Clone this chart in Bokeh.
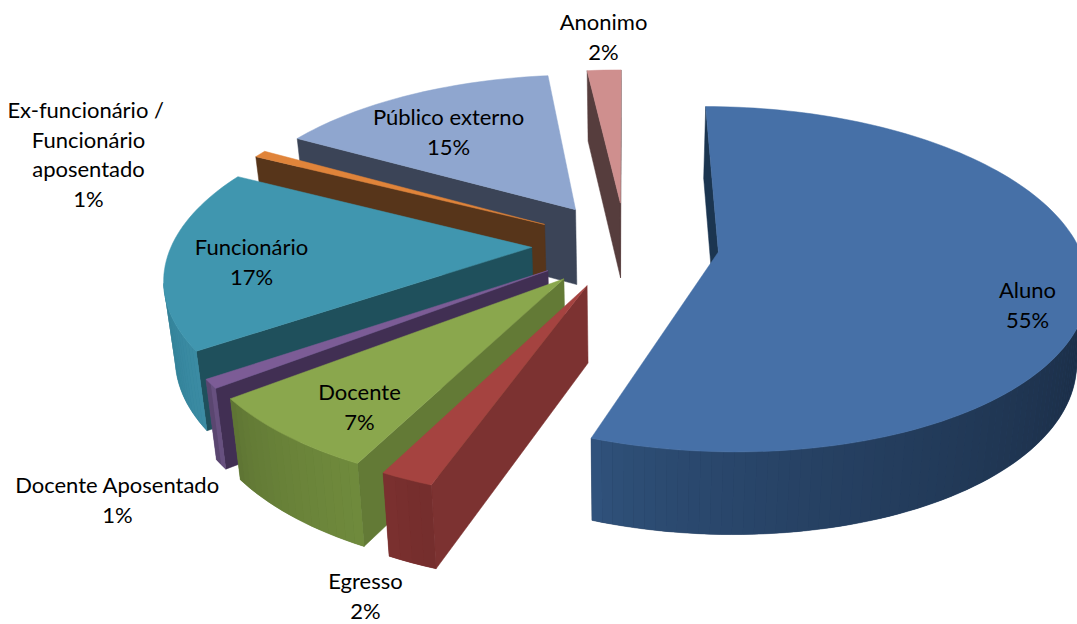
import math
from bokeh.plotting import figure
from bokeh.embed import file_html
from bokeh.resources import INLINE
from bokeh.core.properties import value

categories = ["Aluno", "Egresso", "Docente", "Docente Aposentado", "Funcionário",
              "Ex-funcionário / Funcionário aposentado", "Público externo", "Anonimo"]
shares = [55.47, 1.98, 7.1, 0.85, 17.1, 0.7, 15.0, 1.8]
top_colors = ["#4670a7", "#a54340", "#8aa74d", "#7c5c96", "#4096af", "#e0843a", "#8fa6cf", "#cf8f8e"]
cut_colors = ["#1b3550", "#7c3231", "#637a36", "#412f53", "#1f505c", "#57351a", "#3b4457", "#563d3d"]
side_from = ["#30527c", "#7a302f", "#5f7534", "#5a4670", "#2f7d93", "#a8632b", "#6d7f9e", "#a06e6d"]
side_to = ["#1a2c44", "#752e2d", "#6f8a3c", "#67507f", "#3b8ba3", "#a8632b", "#6d7f9e", "#a06e6d"]

label_lines = [
    (["Aluno", "55%"], 1027, 289),
    (["Egresso", "2%"], 365, 580),
    (["Docente", "7%"], 359, 391),
    (["Docente Aposentado", "1%"], 117, 484),
    (["Funcionário", "17%"], 251, 246),
    (["Ex-funcionário  /", "Funcionário", "aposentado", "1%"], 88, 109),
    (["Público externo", "15%"], 448, 116),
    (["Anonimo", "2%"], 603, 21),
]

CX, CY, A, B, K, EXPLODE, DEPTH = 625, 244, 360, 166, 0.157, 0.26, 76
FONT = "Lato"
FONT_SIZE = "22px"
LINE_GAP = 29.7


def project(u, v):
    s = 1 / (1 - K * v)
    return CX + A * u * s, CY + B * v * s


def hex2rgb(h):
    return [int(h[i:i + 2], 16) for i in (1, 3, 5)]


def mix(c1, c2, t):
    a, b = hex2rgb(c1), hex2rgb(c2)
    return "#%02x%02x%02x" % tuple(round(a[i] + (b[i] - a[i]) * t) for i in range(3))


p = figure(width=1077, height=624, x_range=(0, 1077), y_range=(624, 0),
           toolbar_location=None, output_backend="svg", min_border=0)
p.axis.visible = False
p.grid.visible = False
p.outline_line_color = None

total = sum(shares)
slices = []
start = 0.0
for i, share in enumerate(shares):
    sweep = 360.0 * share / total
    mid = math.radians(start + sweep / 2)
    ou, ov = EXPLODE * math.sin(mid), -EXPLODE * math.cos(mid)
    n = max(2, int(sweep / 1.5))
    arc = []
    for j in range(n + 1):
        t = math.radians(start + sweep * j / n)
        arc.append(project(ou + math.sin(t), ov - math.cos(t)))
    apex = project(ou, ov)
    slices.append((ov, i, apex, arc, n))
    start += sweep


def bottom(pt):
    x, y = pt
    v_y = (y - CY) / B
    return CX + (x - CX) * 0.975, y + DEPTH * (1 + 0.07 * v_y)


def quad(a, b, color, line=True):
    c, d = bottom(b), bottom(a)
    xs = [a[0], b[0], c[0], d[0]]
    ys = [a[1], b[1], c[1], d[1]]
    p.patch(xs, ys, fill_color=color, line_color=color if line else None, line_width=0.5)


for ov, i, apex, arc, n in sorted(slices, key=lambda r: r[0]):
    ring = [apex] + arc
    last = len(ring) - 1
    # boundary runs clockwise on screen (y down); an edge faces the viewer when it runs leftward
    first_edge = (ring[0], ring[1])
    last_edge = (ring[last], ring[0])
    for a, b in (first_edge, last_edge):
        if b[0] < a[0]:
            quad(a, b, cut_colors[i])
    arc_edges = [(ring[k], ring[k + 1]) for k in range(1, last) if ring[k + 1][0] < ring[k][0]]
    if arc_edges:
        run = [arc_edges[0][0]] + [e[1] for e in arc_edges]
        low = [bottom(q) for q in reversed(run)]
        base = mix(side_from[i], side_to[i], 0.5)
        p.patch([q[0] for q in run + low], [q[1] for q in run + low],
                fill_color=base, line_color=base, line_width=0.5)
        m = len(arc_edges)
        for k, (a, b) in enumerate(arc_edges):
            quad(a, b, mix(side_from[i], side_to[i], ((m - 1 - k) / max(1, m - 1)) ** 0.7), line=False)
    p.patch([q[0] for q in ring], [q[1] for q in ring], fill_color=top_colors[i],
            line_color=top_colors[i], line_width=0.5)

for lines, x, y in label_lines:
    p.text(x=[x] * len(lines), y=[y + LINE_GAP * m for m in range(len(lines))], text=lines,
           text_font=value(FONT), text_font_size=FONT_SIZE, text_color="#000000",
           text_align="center", text_baseline="middle")

open("out.html", "w").write(file_html(p, INLINE))
